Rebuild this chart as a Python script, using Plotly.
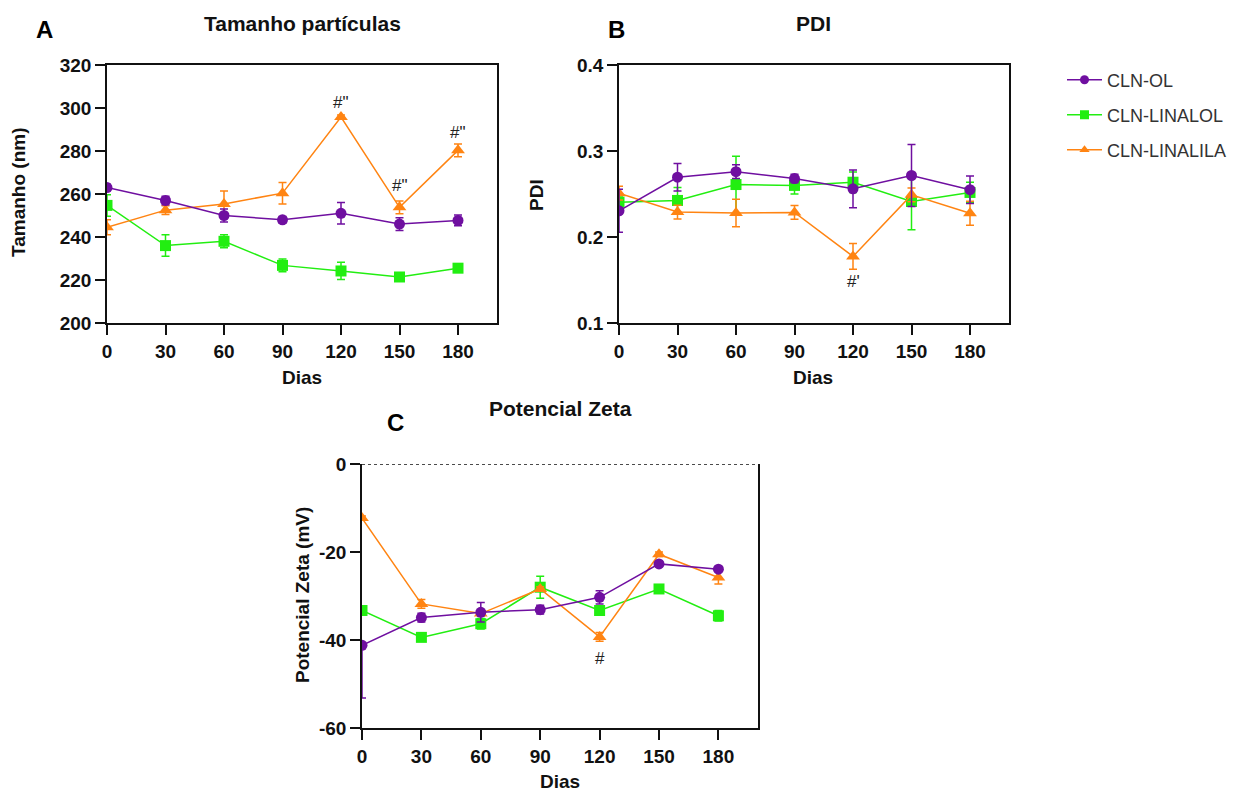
import plotly.graph_objects as go

days = [0, 30, 60, 90, 120, 150, 180]
series_names = ["CLN-OL", "CLN-LINALOL", "CLN-LINALILA"]
colors = ["#6f0fa0", "#22ee11", "#ff8412"]
symbols = ["circle", "square", "triangle-up"]

# Panel A - Tamanho partículas (nm)
size_ol = [263, 257, 250, 248, 251, 246, 247.7]
size_ol_err = [1.5, 2, 3, 1.5, 5, 3, 2.5]
size_linalol = [254.7, 236, 238, 226.8, 224.2, 221.4, 225.5]
size_linalol_err = [5, 5, 3, 3, 4, 2, 1]
size_linalila = [244.5, 252.5, 255.4, 260.4, 295.8, 253.8, 280.3]
size_linalila_err = [3.5, 2, 6, 5, 1, 3, 3]

# Panel B - PDI
pdi_ol = [0.2305, 0.2695, 0.276, 0.268, 0.256, 0.2715, 0.255]
pdi_ol_err = [0.025, 0.016, 0.008, 0.005, 0.022, 0.036, 0.016]
pdi_linalol = [0.2405, 0.2425, 0.261, 0.260, 0.2637, 0.2413, 0.2518]
pdi_linalol_err = [0.006, 0.015, 0.033, 0.01, 0.012, 0.033, 0.012]
pdi_linalila = [0.251, 0.229, 0.2278, 0.2285, 0.1774, 0.249, 0.2277]
pdi_linalila_err = [0.008, 0.008, 0.016, 0.008, 0.015, 0.008, 0.014]

# Panel C - Potencial Zeta (mV)
zeta_ol = [-41.2, -34.9, -33.7, -33.1, -30.3, -22.7, -23.9]
zeta_ol_err_plus = [0, 1, 2.2, 1, 1.5, 0.5, 0.5]
zeta_ol_err_minus = [12, 1, 2.2, 1, 1.5, 0.5, 0.5]
zeta_linalol = [-33.3, -39.4, -36.3, -28.0, -33.3, -28.4, -34.5]
zeta_linalol_err = [0.5, 0.8, 1.2, 2.5, 0.6, 0.5, 1.2]
zeta_linalila = [-12.3, -31.8, -34.0, -28.4, -39.3, -20.5, -25.8]
zeta_linalila_err = [0.5, 1, 0.5, 0.5, 1, 0.5, 1.5]

# Annotations (significance marks)
annot_a_x = [120, 150, 180]
annot_a_y = [302.5, 264, 288.6]
annot_a_txt = ['#"', '#"', '#"']
annot_b_x = [120]
annot_b_y = [0.148]
annot_b_txt = ["#'"]
annot_c_x = [120]
annot_c_y = [-44.2]
annot_c_txt = ["#"]

OFF = 8  # page body margin
W, H = 1236 - OFF, 791 - OFF
def px_x(p):
    return (p - OFF) / W
def px_y(p):
    return 1 - (p - OFF) / H

fig = go.Figure()

panels = [
    ("x", "y", [size_ol, size_linalol, size_linalila],
     [dict(array=size_ol_err), dict(array=size_linalol_err), dict(array=size_linalila_err)]),
    ("x2", "y2", [pdi_ol, pdi_linalol, pdi_linalila],
     [dict(array=pdi_ol_err), dict(array=pdi_linalol_err), dict(array=pdi_linalila_err)]),
    ("x3", "y3", [zeta_ol, zeta_linalol, zeta_linalila],
     [dict(array=zeta_ol_err_plus, arrayminus=zeta_ol_err_minus, symmetric=False),
      dict(array=zeta_linalol_err), dict(array=zeta_linalila_err)]),
]
marker_sizes = [11, 11, 12]

for pi, (xa, ya, vals, errs) in enumerate(panels):
    for si in [1, 2, 0]:
        err = dict(type="data", visible=True, color=colors[si], thickness=1.5, width=4)
        err.update(errs[si])
        fig.add_trace(go.Scatter(
            x=days, y=vals[si], xaxis=xa, yaxis=ya,
            mode="lines+markers",
            name=series_names[si],
            showlegend=False,
            line=dict(color=colors[si], width=1.5),
            marker=dict(symbol=symbols[si], size=marker_sizes[si], color=colors[si],
                        line=dict(width=0)),
            error_y=err,
        ))

# legend traces, one legend each for exact spacing
legend_names = ["legend", "legend2", "legend3"]
legend_y = [80, 115, 150]
for si in range(3):
    fig.add_trace(go.Scatter(
        x=[None], y=[None], xaxis="x", yaxis="y",
        mode="lines+markers", name=series_names[si],
        line=dict(color=colors[si], width=1.5),
        marker=dict(symbol=symbols[si], size=9, color=colors[si], line=dict(width=0)),
        showlegend=True, legend=legend_names[si],
    ))

BOLD = "bold"
SANS = "Liberation Sans"
tickfont = dict(family=SANS, size=19, color="#111111", weight=BOLD)
common_x = dict(range=[0, 200], tickvals=days, ticktext=[str(d) for d in days],
                showline=True, linecolor="#111111", linewidth=1.5,
                ticks="outside", ticklen=10, tickwidth=1.5, tickcolor="#111111",
                showgrid=False, zeroline=False, tickfont=tickfont, automargin=False)
common_y = dict(showline=True, linecolor="#111111", linewidth=1.5,
                ticks="outside", ticklen=10, tickwidth=1.5, tickcolor="#111111",
                showgrid=False, zeroline=False, tickfont=tickfont, automargin=False)

legfont = dict(family=SANS, size=18, color="#333333")
layout_legends = {}
for i, ln in enumerate(legend_names):
    layout_legends[ln] = dict(x=px_x(1062), y=px_y(legend_y[i]), xanchor="left", yanchor="middle",
                              font=legfont, bgcolor="rgba(0,0,0,0)", borderwidth=0,
                              itemwidth=35)

fig.update_layout(
    template="none",
    width=W, height=H, autosize=False,
    margin=dict(l=0, r=0, t=0, b=0, pad=0, autoexpand=False),
    plot_bgcolor="white", paper_bgcolor="white",
    xaxis=dict(domain=[px_x(107), px_x(497)], anchor="y", mirror=True, **common_x),
    yaxis=dict(domain=[px_y(323), px_y(65)], anchor="x", mirror=True, range=[200, 320],
               tickvals=[200, 220, 240, 260, 280, 300, 320], **common_y),
    xaxis2=dict(domain=[px_x(619), px_x(1009)], anchor="y2", mirror=True, **common_x),
    yaxis2=dict(domain=[px_y(323), px_y(65)], anchor="x2", mirror=True, range=[0.1, 0.4],
                tickvals=[0.1, 0.2, 0.3, 0.4], ticktext=["0.1", "0.2", "0.3", "0.4"], **common_y),
    xaxis3=dict(domain=[px_x(362), px_x(758)], anchor="y3", mirror=False, **common_x),
    yaxis3=dict(domain=[px_y(728), px_y(464)], anchor="x3", mirror=True, range=[-60, 0],
                tickvals=[-60, -40, -20, 0], ticktext=["-60", "-40", "-20", "0"], **common_y),
    showlegend=True,
    **layout_legends,
)

# dotted zero line for panel C
fig.add_shape(type="line", xref="x3 domain", yref="y3", x0=0, x1=1, y0=0, y1=0,
              line=dict(color="#111111", width=1.5, dash="dot"))

annots = []
titlefont = dict(family=SANS, size=21, color="#111111", weight=BOLD)
axfont = dict(family=SANS, size=19, color="#111111", weight=BOLD)
letterfont = dict(family=SANS, size=24, color="#000000", weight=BOLD)

def paper_text(x, y, text, font, angle=0):
    annots.append(dict(x=px_x(x), y=px_y(y), xref="paper", yref="paper", text=text,
                       showarrow=False, font=font, textangle=angle,
                       xanchor="center", yanchor="middle"))

paper_text(302, 23, "Tamanho partículas", titlefont)
paper_text(813, 23, "PDI", titlefont)
paper_text(560, 409, "Potencial Zeta", titlefont)
paper_text(44, 29, "A", letterfont)
paper_text(616, 29, "B", letterfont)
paper_text(396, 422, "C", letterfont)
paper_text(302, 377, "Dias", axfont)
paper_text(813, 377, "Dias", axfont)
paper_text(560, 781, "Dias", axfont)
paper_text(18, 193, "Tamanho (nm)", axfont, -90)
paper_text(537, 195, "PDI", axfont, -90)
paper_text(302, 595, "Potencial Zeta (mV)", axfont, -90)

markfont = dict(family=SANS, size=17, color="#222222")
for xs, ys, ts, xr, yr in [(annot_a_x, annot_a_y, annot_a_txt, "x", "y"),
                           (annot_b_x, annot_b_y, annot_b_txt, "x2", "y2"),
                           (annot_c_x, annot_c_y, annot_c_txt, "x3", "y3")]:
    for xv, yv, tv in zip(xs, ys, ts):
        annots.append(dict(x=xv, y=yv, xref=xr, yref=yr, text=tv, showarrow=False,
                           font=markfont, xanchor="center", yanchor="middle"))

fig.update_layout(annotations=annots)

fig.write_html("out.html")
